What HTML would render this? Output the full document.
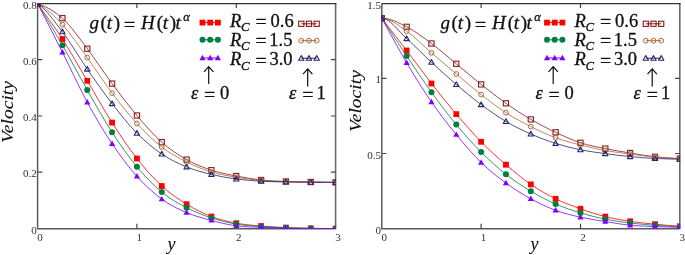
<!DOCTYPE html>
<html><head><meta charset="utf-8"><style>
html,body{margin:0;padding:0;background:#fff;width:685px;height:255px;overflow:hidden}
svg{display:block}
text.b{stroke:#111;stroke-width:0.3px}
text.v{stroke:#111;stroke-width:0.1px}
</style></head><body>
<svg width="685" height="255" viewBox="0 0 685 255">
<defs><clipPath id="cl"><rect x="37.1" y="3.3" width="298.8" height="225.8"/></clipPath><clipPath id="cr"><rect x="381.3" y="3.3" width="298.8" height="225.8"/></clipPath></defs>
<path d="M335.6,3.6 V228.8" fill="none" stroke="#6a6a6a" stroke-width="1.6"/>
<path d="M37.6,3.6 H336.4" fill="none" stroke="#333" stroke-width="1.3"/>
<path d="M37.6,3.6 V228.8 H335.6" fill="none" stroke="#5a5a5a" stroke-width="1.5"/>
<g clip-path="url(#cl)">
<path d="M37.60,3.60 C45.88,15.40 54.16,26.13 62.43,39.00 C70.71,51.87 78.99,66.87 87.27,80.80 C95.54,94.73 103.82,109.65 112.10,122.60 C120.38,135.55 128.65,147.93 136.93,158.50 C145.21,169.07 153.48,178.38 161.76,186.00 C170.04,193.62 178.32,199.12 186.59,204.20 C194.87,209.28 203.15,213.33 211.43,216.50 C219.70,219.67 227.98,221.62 236.26,223.20 C244.54,224.78 252.82,225.27 261.09,226.00 C269.37,226.73 277.65,227.22 285.93,227.60 C294.20,227.98 302.48,228.13 310.76,228.30 C319.04,228.47 327.31,228.50 335.59,228.60" fill="none" stroke="#ff0000" stroke-width="1" stroke-opacity="0.8"/>
<rect x="34.70" y="0.70" width="5.8" height="5.8" fill="#ff0000"/>
<rect x="59.53" y="36.10" width="5.8" height="5.8" fill="#ff0000"/>
<rect x="84.36" y="77.90" width="5.8" height="5.8" fill="#ff0000"/>
<rect x="109.20" y="119.70" width="5.8" height="5.8" fill="#ff0000"/>
<rect x="134.03" y="155.60" width="5.8" height="5.8" fill="#ff0000"/>
<rect x="158.86" y="183.10" width="5.8" height="5.8" fill="#ff0000"/>
<rect x="183.69" y="201.30" width="5.8" height="5.8" fill="#ff0000"/>
<rect x="208.53" y="213.60" width="5.8" height="5.8" fill="#ff0000"/>
<rect x="233.36" y="220.30" width="5.8" height="5.8" fill="#ff0000"/>
<rect x="258.19" y="223.10" width="5.8" height="5.8" fill="#ff0000"/>
<rect x="283.03" y="224.70" width="5.8" height="5.8" fill="#ff0000"/>
<rect x="307.86" y="225.40" width="5.8" height="5.8" fill="#ff0000"/>
<rect x="332.69" y="225.70" width="5.8" height="5.8" fill="#ff0000"/>
<path d="M37.60,3.60 C45.88,17.47 54.16,30.78 62.43,45.20 C70.71,59.62 78.99,75.58 87.27,90.10 C95.54,104.62 103.82,119.52 112.10,132.30 C120.38,145.08 128.65,156.83 136.93,166.80 C145.21,176.77 153.48,185.28 161.76,192.10 C170.04,198.92 178.32,203.40 186.59,207.70 C194.87,212.00 203.15,215.17 211.43,217.90 C219.70,220.63 227.98,222.67 236.26,224.10 C244.54,225.53 252.82,225.88 261.09,226.50 C269.37,227.12 277.65,227.48 285.93,227.80 C294.20,228.12 302.48,228.25 310.76,228.40 C319.04,228.55 327.31,228.60 335.59,228.70" fill="none" stroke="#008040" stroke-width="1" stroke-opacity="0.8"/>
<circle cx="37.60" cy="3.60" r="3" fill="#008040"/>
<circle cx="62.43" cy="45.20" r="3" fill="#008040"/>
<circle cx="87.27" cy="90.10" r="3" fill="#008040"/>
<circle cx="112.10" cy="132.30" r="3" fill="#008040"/>
<circle cx="136.93" cy="166.80" r="3" fill="#008040"/>
<circle cx="161.76" cy="192.10" r="3" fill="#008040"/>
<circle cx="186.59" cy="207.70" r="3" fill="#008040"/>
<circle cx="211.43" cy="217.90" r="3" fill="#008040"/>
<circle cx="236.26" cy="224.10" r="3" fill="#008040"/>
<circle cx="261.09" cy="226.50" r="3" fill="#008040"/>
<circle cx="285.93" cy="227.80" r="3" fill="#008040"/>
<circle cx="310.76" cy="228.40" r="3" fill="#008040"/>
<circle cx="335.59" cy="228.70" r="3" fill="#008040"/>
<path d="M37.60,3.60 C45.88,19.80 54.16,35.75 62.43,52.20 C70.71,68.65 78.99,87.03 87.27,102.30 C95.54,117.57 103.82,131.47 112.10,143.80 C120.38,156.13 128.65,167.08 136.93,176.30 C145.21,185.52 153.48,193.05 161.76,199.10 C170.04,205.15 178.32,209.05 186.59,212.60 C194.87,216.15 203.15,218.18 211.43,220.40 C219.70,222.62 227.98,224.75 236.26,225.90 C244.54,227.05 252.82,226.92 261.09,227.30 C269.37,227.68 277.65,227.98 285.93,228.20 C294.20,228.42 302.48,228.50 310.76,228.60 C319.04,228.70 327.31,228.73 335.59,228.80" fill="none" stroke="#8000ff" stroke-width="1" stroke-opacity="0.8"/>
<path d="M37.60,0.40 L40.70,5.80 L34.50,5.80 Z" fill="#8000ff"/>
<path d="M62.43,49.00 L65.53,54.40 L59.33,54.40 Z" fill="#8000ff"/>
<path d="M87.27,99.10 L90.36,104.50 L84.17,104.50 Z" fill="#8000ff"/>
<path d="M112.10,140.60 L115.20,146.00 L109.00,146.00 Z" fill="#8000ff"/>
<path d="M136.93,173.10 L140.03,178.50 L133.83,178.50 Z" fill="#8000ff"/>
<path d="M161.76,195.90 L164.86,201.30 L158.66,201.30 Z" fill="#8000ff"/>
<path d="M186.59,209.40 L189.69,214.80 L183.50,214.80 Z" fill="#8000ff"/>
<path d="M211.43,217.20 L214.53,222.60 L208.33,222.60 Z" fill="#8000ff"/>
<path d="M236.26,222.70 L239.36,228.10 L233.16,228.10 Z" fill="#8000ff"/>
<path d="M261.09,224.10 L264.19,229.50 L257.99,229.50 Z" fill="#8000ff"/>
<path d="M285.93,225.00 L289.03,230.40 L282.82,230.40 Z" fill="#8000ff"/>
<path d="M310.76,225.40 L313.86,230.80 L307.66,230.80 Z" fill="#8000ff"/>
<path d="M335.59,225.60 L338.69,231.00 L332.49,231.00 Z" fill="#8000ff"/>
<path d="M37.60,3.60 C45.88,6.52 54.16,10.68 62.43,18.20 C70.71,25.72 78.99,37.80 87.27,48.70 C95.54,59.60 103.82,72.47 112.10,83.60 C120.38,94.73 128.65,105.73 136.93,115.50 C145.21,125.27 153.48,134.85 161.76,142.20 C170.04,149.55 178.32,154.93 186.59,159.60 C194.87,164.27 203.15,167.47 211.43,170.20 C219.70,172.93 227.98,174.37 236.26,176.00 C244.54,177.63 252.82,179.08 261.09,180.00 C269.37,180.92 277.65,181.17 285.93,181.50 C294.20,181.83 302.48,181.85 310.76,182.00 C319.04,182.15 327.31,182.27 335.59,182.40" fill="none" stroke="#8b1a1a" stroke-width="1" stroke-opacity="0.8"/>
<rect x="35.00" y="1.00" width="5.2" height="5.2" fill="none" stroke="#8b1a1a" stroke-width="1.1"/>
<rect x="59.83" y="15.60" width="5.2" height="5.2" fill="none" stroke="#8b1a1a" stroke-width="1.1"/>
<rect x="84.67" y="46.10" width="5.2" height="5.2" fill="none" stroke="#8b1a1a" stroke-width="1.1"/>
<rect x="109.50" y="81.00" width="5.2" height="5.2" fill="none" stroke="#8b1a1a" stroke-width="1.1"/>
<rect x="134.33" y="112.90" width="5.2" height="5.2" fill="none" stroke="#8b1a1a" stroke-width="1.1"/>
<rect x="159.16" y="139.60" width="5.2" height="5.2" fill="none" stroke="#8b1a1a" stroke-width="1.1"/>
<rect x="184.00" y="157.00" width="5.2" height="5.2" fill="none" stroke="#8b1a1a" stroke-width="1.1"/>
<rect x="208.83" y="167.60" width="5.2" height="5.2" fill="none" stroke="#8b1a1a" stroke-width="1.1"/>
<rect x="233.66" y="173.40" width="5.2" height="5.2" fill="none" stroke="#8b1a1a" stroke-width="1.1"/>
<rect x="258.49" y="177.40" width="5.2" height="5.2" fill="none" stroke="#8b1a1a" stroke-width="1.1"/>
<rect x="283.32" y="178.90" width="5.2" height="5.2" fill="none" stroke="#8b1a1a" stroke-width="1.1"/>
<rect x="308.16" y="179.40" width="5.2" height="5.2" fill="none" stroke="#8b1a1a" stroke-width="1.1"/>
<rect x="332.99" y="179.80" width="5.2" height="5.2" fill="none" stroke="#8b1a1a" stroke-width="1.1"/>
<path d="M37.60,3.60 C45.88,7.82 54.16,15.70 62.43,24.70 C70.71,33.70 78.99,46.20 87.27,57.60 C95.54,69.00 103.82,82.12 112.10,93.10 C120.38,104.08 128.65,114.52 136.93,123.50 C145.21,132.48 153.48,140.58 161.76,147.00 C170.04,153.42 178.32,157.83 186.59,162.00 C194.87,166.17 203.15,169.47 211.43,172.00 C219.70,174.53 227.98,175.78 236.26,177.20 C244.54,178.62 252.82,179.75 261.09,180.50 C269.37,181.25 277.65,181.43 285.93,181.70 C294.20,181.97 302.48,181.98 310.76,182.10 C319.04,182.22 327.31,182.30 335.59,182.40" fill="none" stroke="#a86a3c" stroke-width="1" stroke-opacity="0.8"/>
<circle cx="37.60" cy="3.60" r="2.4" fill="none" stroke="#a86a3c" stroke-width="1"/>
<circle cx="62.43" cy="24.70" r="2.4" fill="none" stroke="#a86a3c" stroke-width="1"/>
<circle cx="87.27" cy="57.60" r="2.4" fill="none" stroke="#a86a3c" stroke-width="1"/>
<circle cx="112.10" cy="93.10" r="2.4" fill="none" stroke="#a86a3c" stroke-width="1"/>
<circle cx="136.93" cy="123.50" r="2.4" fill="none" stroke="#a86a3c" stroke-width="1"/>
<circle cx="161.76" cy="147.00" r="2.4" fill="none" stroke="#a86a3c" stroke-width="1"/>
<circle cx="186.59" cy="162.00" r="2.4" fill="none" stroke="#a86a3c" stroke-width="1"/>
<circle cx="211.43" cy="172.00" r="2.4" fill="none" stroke="#a86a3c" stroke-width="1"/>
<circle cx="236.26" cy="177.20" r="2.4" fill="none" stroke="#a86a3c" stroke-width="1"/>
<circle cx="261.09" cy="180.50" r="2.4" fill="none" stroke="#a86a3c" stroke-width="1"/>
<circle cx="285.93" cy="181.70" r="2.4" fill="none" stroke="#a86a3c" stroke-width="1"/>
<circle cx="310.76" cy="182.10" r="2.4" fill="none" stroke="#a86a3c" stroke-width="1"/>
<circle cx="335.59" cy="182.40" r="2.4" fill="none" stroke="#a86a3c" stroke-width="1"/>
<path d="M37.60,3.60 C45.88,9.24 54.16,20.88 62.43,31.80 C70.71,42.72 78.99,57.13 87.27,69.10 C95.54,81.07 103.82,92.92 112.10,103.60 C120.38,114.28 128.65,124.80 136.93,133.20 C145.21,141.60 153.48,148.38 161.76,154.00 C170.04,159.62 178.32,163.50 186.59,166.90 C194.87,170.30 203.15,172.38 211.43,174.40 C219.70,176.42 227.98,177.87 236.26,179.00 C244.54,180.13 252.82,180.70 261.09,181.20 C269.37,181.70 277.65,181.83 285.93,182.00 C294.20,182.17 302.48,182.13 310.76,182.20 C319.04,182.27 327.31,182.33 335.59,182.40" fill="none" stroke="#25256b" stroke-width="1" stroke-opacity="0.8"/>
<path d="M37.60,0.90 L40.30,5.60 L34.90,5.60 Z" fill="none" stroke="#25256b" stroke-width="1.1" stroke-linejoin="round"/>
<path d="M62.43,29.10 L65.13,33.80 L59.73,33.80 Z" fill="none" stroke="#25256b" stroke-width="1.1" stroke-linejoin="round"/>
<path d="M87.27,66.40 L89.97,71.10 L84.56,71.10 Z" fill="none" stroke="#25256b" stroke-width="1.1" stroke-linejoin="round"/>
<path d="M112.10,100.90 L114.80,105.60 L109.40,105.60 Z" fill="none" stroke="#25256b" stroke-width="1.1" stroke-linejoin="round"/>
<path d="M136.93,130.50 L139.63,135.20 L134.23,135.20 Z" fill="none" stroke="#25256b" stroke-width="1.1" stroke-linejoin="round"/>
<path d="M161.76,151.30 L164.46,156.00 L159.06,156.00 Z" fill="none" stroke="#25256b" stroke-width="1.1" stroke-linejoin="round"/>
<path d="M186.59,164.20 L189.29,168.90 L183.90,168.90 Z" fill="none" stroke="#25256b" stroke-width="1.1" stroke-linejoin="round"/>
<path d="M211.43,171.70 L214.13,176.40 L208.73,176.40 Z" fill="none" stroke="#25256b" stroke-width="1.1" stroke-linejoin="round"/>
<path d="M236.26,176.30 L238.96,181.00 L233.56,181.00 Z" fill="none" stroke="#25256b" stroke-width="1.1" stroke-linejoin="round"/>
<path d="M261.09,178.50 L263.79,183.20 L258.39,183.20 Z" fill="none" stroke="#25256b" stroke-width="1.1" stroke-linejoin="round"/>
<path d="M285.93,179.30 L288.62,184.00 L283.23,184.00 Z" fill="none" stroke="#25256b" stroke-width="1.1" stroke-linejoin="round"/>
<path d="M310.76,179.50 L313.46,184.20 L308.06,184.20 Z" fill="none" stroke="#25256b" stroke-width="1.1" stroke-linejoin="round"/>
<path d="M335.59,179.70 L338.29,184.40 L332.89,184.40 Z" fill="none" stroke="#25256b" stroke-width="1.1" stroke-linejoin="round"/>
</g>
<path d="M136.9,228.8 v-5 M136.9,3.6 v4.5" stroke="#444" stroke-width="1.2"/>
<path d="M236.3,228.8 v-5 M236.3,3.6 v4.5" stroke="#444" stroke-width="1.2"/>
<text x="37.3" y="241.4" style="font-family:'Liberation Serif','Times New Roman',serif;font-size:11px" fill="#333">0</text>
<text x="136.6" y="241.4" style="font-family:'Liberation Serif','Times New Roman',serif;font-size:11px" fill="#333">1</text>
<text x="236.0" y="241.4" style="font-family:'Liberation Serif','Times New Roman',serif;font-size:11px" fill="#333">2</text>
<text x="335.3" y="241.4" style="font-family:'Liberation Serif','Times New Roman',serif;font-size:11px" fill="#333">3</text>
<text x="36.8" y="233.8" text-anchor="end" style="font-family:'Liberation Serif','Times New Roman',serif;font-size:11px" fill="#333">0</text>
<path d="M37.6,172.2 h4.7 M335.6,172.2 h-4.7" stroke="#444" stroke-width="1.2"/>
<text x="36.8" y="177.2" text-anchor="end" style="font-family:'Liberation Serif','Times New Roman',serif;font-size:11px" fill="#333">0.2</text>
<path d="M37.6,116.0 h4.7 M335.6,116.0 h-4.7" stroke="#444" stroke-width="1.2"/>
<text x="36.8" y="121.0" text-anchor="end" style="font-family:'Liberation Serif','Times New Roman',serif;font-size:11px" fill="#333">0.4</text>
<path d="M37.6,59.6 h4.7 M335.6,59.6 h-4.7" stroke="#444" stroke-width="1.2"/>
<text x="36.8" y="64.6" text-anchor="end" style="font-family:'Liberation Serif','Times New Roman',serif;font-size:11px" fill="#333">0.6</text>
<text x="36.8" y="8.6" text-anchor="end" style="font-family:'Liberation Serif','Times New Roman',serif;font-size:11px" fill="#333">0.8</text>
<path d="M679.8,3.6 V228.8" fill="none" stroke="#6a6a6a" stroke-width="1.6"/>
<path d="M381.8,3.6 H680.6" fill="none" stroke="#333" stroke-width="1.3"/>
<path d="M381.8,3.6 V228.8 H679.8" fill="none" stroke="#5a5a5a" stroke-width="1.5"/>
<g clip-path="url(#cr)">
<path d="M381.80,18.20 C390.08,28.97 398.36,39.62 406.63,50.50 C414.91,61.38 423.19,72.90 431.47,83.50 C439.74,94.10 448.02,104.38 456.30,114.10 C464.57,123.82 472.85,133.37 481.13,141.80 C489.41,150.23 497.69,157.60 505.96,164.70 C514.24,171.80 522.52,178.72 530.80,184.40 C539.07,190.08 547.35,194.73 555.63,198.80 C563.91,202.87 572.18,205.83 580.46,208.80 C588.74,211.77 597.01,214.52 605.29,216.60 C613.57,218.68 621.85,220.03 630.12,221.30 C638.40,222.57 646.68,223.37 654.96,224.20 C663.24,225.03 671.51,225.60 679.79,226.30" fill="none" stroke="#ff0000" stroke-width="1" stroke-opacity="0.8"/>
<rect x="378.90" y="15.30" width="5.8" height="5.8" fill="#ff0000"/>
<rect x="403.73" y="47.60" width="5.8" height="5.8" fill="#ff0000"/>
<rect x="428.57" y="80.60" width="5.8" height="5.8" fill="#ff0000"/>
<rect x="453.40" y="111.20" width="5.8" height="5.8" fill="#ff0000"/>
<rect x="478.23" y="138.90" width="5.8" height="5.8" fill="#ff0000"/>
<rect x="503.06" y="161.80" width="5.8" height="5.8" fill="#ff0000"/>
<rect x="527.90" y="181.50" width="5.8" height="5.8" fill="#ff0000"/>
<rect x="552.73" y="195.90" width="5.8" height="5.8" fill="#ff0000"/>
<rect x="577.56" y="205.90" width="5.8" height="5.8" fill="#ff0000"/>
<rect x="602.39" y="213.70" width="5.8" height="5.8" fill="#ff0000"/>
<rect x="627.23" y="218.40" width="5.8" height="5.8" fill="#ff0000"/>
<rect x="652.06" y="221.30" width="5.8" height="5.8" fill="#ff0000"/>
<rect x="676.89" y="223.40" width="5.8" height="5.8" fill="#ff0000"/>
<path d="M381.80,18.20 C390.08,30.77 398.36,43.57 406.63,55.90 C414.91,68.23 423.19,80.75 431.47,92.20 C439.74,103.65 448.02,114.63 456.30,124.60 C464.57,134.57 472.85,143.72 481.13,152.00 C489.41,160.28 497.69,167.77 505.96,174.30 C514.24,180.83 522.52,186.25 530.80,191.20 C539.07,196.15 547.35,200.38 555.63,204.00 C563.91,207.62 572.18,210.37 580.46,212.90 C588.74,215.43 597.01,217.52 605.29,219.20 C613.57,220.88 621.85,221.98 630.12,223.00 C638.40,224.02 646.68,224.67 654.96,225.30 C663.24,225.93 671.51,226.30 679.79,226.80" fill="none" stroke="#008040" stroke-width="1" stroke-opacity="0.8"/>
<circle cx="381.80" cy="18.20" r="3" fill="#008040"/>
<circle cx="406.63" cy="55.90" r="3" fill="#008040"/>
<circle cx="431.47" cy="92.20" r="3" fill="#008040"/>
<circle cx="456.30" cy="124.60" r="3" fill="#008040"/>
<circle cx="481.13" cy="152.00" r="3" fill="#008040"/>
<circle cx="505.96" cy="174.30" r="3" fill="#008040"/>
<circle cx="530.80" cy="191.20" r="3" fill="#008040"/>
<circle cx="555.63" cy="204.00" r="3" fill="#008040"/>
<circle cx="580.46" cy="212.90" r="3" fill="#008040"/>
<circle cx="605.29" cy="219.20" r="3" fill="#008040"/>
<circle cx="630.12" cy="223.00" r="3" fill="#008040"/>
<circle cx="654.96" cy="225.30" r="3" fill="#008040"/>
<circle cx="679.79" cy="226.80" r="3" fill="#008040"/>
<path d="M381.80,18.20 C390.08,33.07 398.36,48.83 406.63,62.80 C414.91,76.77 423.19,90.03 431.47,102.00 C439.74,113.97 448.02,124.52 456.30,134.60 C464.57,144.68 472.85,154.43 481.13,162.50 C489.41,170.57 497.69,176.95 505.96,183.00 C514.24,189.05 522.52,194.25 530.80,198.80 C539.07,203.35 547.35,207.23 555.63,210.30 C563.91,213.37 572.18,215.33 580.46,217.20 C588.74,219.07 597.01,220.15 605.29,221.50 C613.57,222.85 621.85,224.47 630.12,225.30 C638.40,226.13 646.68,226.17 654.96,226.50 C663.24,226.83 671.51,227.03 679.79,227.30" fill="none" stroke="#8000ff" stroke-width="1" stroke-opacity="0.8"/>
<path d="M381.80,15.00 L384.90,20.40 L378.70,20.40 Z" fill="#8000ff"/>
<path d="M406.63,59.60 L409.73,65.00 L403.53,65.00 Z" fill="#8000ff"/>
<path d="M431.47,98.80 L434.57,104.20 L428.37,104.20 Z" fill="#8000ff"/>
<path d="M456.30,131.40 L459.40,136.80 L453.20,136.80 Z" fill="#8000ff"/>
<path d="M481.13,159.30 L484.23,164.70 L478.03,164.70 Z" fill="#8000ff"/>
<path d="M505.96,179.80 L509.06,185.20 L502.86,185.20 Z" fill="#8000ff"/>
<path d="M530.80,195.60 L533.90,201.00 L527.70,201.00 Z" fill="#8000ff"/>
<path d="M555.63,207.10 L558.73,212.50 L552.53,212.50 Z" fill="#8000ff"/>
<path d="M580.46,214.00 L583.56,219.40 L577.36,219.40 Z" fill="#8000ff"/>
<path d="M605.29,218.30 L608.39,223.70 L602.19,223.70 Z" fill="#8000ff"/>
<path d="M630.12,222.10 L633.23,227.50 L627.02,227.50 Z" fill="#8000ff"/>
<path d="M654.96,223.30 L658.06,228.70 L651.86,228.70 Z" fill="#8000ff"/>
<path d="M679.79,224.10 L682.89,229.50 L676.69,229.50 Z" fill="#8000ff"/>
<path d="M381.80,18.20 C390.08,18.20 398.36,22.58 406.63,26.80 C414.91,31.02 423.19,37.33 431.47,43.50 C439.74,49.67 448.02,56.98 456.30,63.80 C464.57,70.62 472.85,77.82 481.13,84.40 C489.41,90.98 497.69,97.47 505.96,103.30 C514.24,109.13 522.52,114.57 530.80,119.40 C539.07,124.23 547.35,128.40 555.63,132.30 C563.91,136.20 572.18,140.08 580.46,142.80 C588.74,145.52 597.01,146.90 605.29,148.60 C613.57,150.30 621.85,151.63 630.12,153.00 C638.40,154.37 646.68,155.87 654.96,156.80 C663.24,157.73 671.51,158.00 679.79,158.60" fill="none" stroke="#8b1a1a" stroke-width="1" stroke-opacity="0.8"/>
<rect x="379.20" y="15.60" width="5.2" height="5.2" fill="none" stroke="#8b1a1a" stroke-width="1.1"/>
<rect x="404.03" y="24.20" width="5.2" height="5.2" fill="none" stroke="#8b1a1a" stroke-width="1.1"/>
<rect x="428.87" y="40.90" width="5.2" height="5.2" fill="none" stroke="#8b1a1a" stroke-width="1.1"/>
<rect x="453.70" y="61.20" width="5.2" height="5.2" fill="none" stroke="#8b1a1a" stroke-width="1.1"/>
<rect x="478.53" y="81.80" width="5.2" height="5.2" fill="none" stroke="#8b1a1a" stroke-width="1.1"/>
<rect x="503.36" y="100.70" width="5.2" height="5.2" fill="none" stroke="#8b1a1a" stroke-width="1.1"/>
<rect x="528.20" y="116.80" width="5.2" height="5.2" fill="none" stroke="#8b1a1a" stroke-width="1.1"/>
<rect x="553.03" y="129.70" width="5.2" height="5.2" fill="none" stroke="#8b1a1a" stroke-width="1.1"/>
<rect x="577.86" y="140.20" width="5.2" height="5.2" fill="none" stroke="#8b1a1a" stroke-width="1.1"/>
<rect x="602.69" y="146.00" width="5.2" height="5.2" fill="none" stroke="#8b1a1a" stroke-width="1.1"/>
<rect x="627.52" y="150.40" width="5.2" height="5.2" fill="none" stroke="#8b1a1a" stroke-width="1.1"/>
<rect x="652.36" y="154.20" width="5.2" height="5.2" fill="none" stroke="#8b1a1a" stroke-width="1.1"/>
<rect x="677.19" y="156.00" width="5.2" height="5.2" fill="none" stroke="#8b1a1a" stroke-width="1.1"/>
<path d="M381.80,18.20 C390.08,18.20 398.36,25.42 406.63,31.20 C414.91,36.98 423.19,45.77 431.47,52.90 C439.74,60.03 448.02,67.05 456.30,74.00 C464.57,80.95 472.85,88.15 481.13,94.60 C489.41,101.05 497.69,107.37 505.96,112.70 C514.24,118.03 522.52,122.43 530.80,126.60 C539.07,130.77 547.35,134.63 555.63,137.70 C563.91,140.77 572.18,142.85 580.46,145.00 C588.74,147.15 597.01,149.10 605.29,150.60 C613.57,152.10 621.85,152.90 630.12,154.00 C638.40,155.10 646.68,156.40 654.96,157.20 C663.24,158.00 671.51,158.27 679.79,158.80" fill="none" stroke="#a86a3c" stroke-width="1" stroke-opacity="0.8"/>
<circle cx="381.80" cy="18.20" r="2.4" fill="none" stroke="#a86a3c" stroke-width="1"/>
<circle cx="406.63" cy="31.20" r="2.4" fill="none" stroke="#a86a3c" stroke-width="1"/>
<circle cx="431.47" cy="52.90" r="2.4" fill="none" stroke="#a86a3c" stroke-width="1"/>
<circle cx="456.30" cy="74.00" r="2.4" fill="none" stroke="#a86a3c" stroke-width="1"/>
<circle cx="481.13" cy="94.60" r="2.4" fill="none" stroke="#a86a3c" stroke-width="1"/>
<circle cx="505.96" cy="112.70" r="2.4" fill="none" stroke="#a86a3c" stroke-width="1"/>
<circle cx="530.80" cy="126.60" r="2.4" fill="none" stroke="#a86a3c" stroke-width="1"/>
<circle cx="555.63" cy="137.70" r="2.4" fill="none" stroke="#a86a3c" stroke-width="1"/>
<circle cx="580.46" cy="145.00" r="2.4" fill="none" stroke="#a86a3c" stroke-width="1"/>
<circle cx="605.29" cy="150.60" r="2.4" fill="none" stroke="#a86a3c" stroke-width="1"/>
<circle cx="630.12" cy="154.00" r="2.4" fill="none" stroke="#a86a3c" stroke-width="1"/>
<circle cx="654.96" cy="157.20" r="2.4" fill="none" stroke="#a86a3c" stroke-width="1"/>
<circle cx="679.79" cy="158.80" r="2.4" fill="none" stroke="#a86a3c" stroke-width="1"/>
<path d="M381.80,18.20 C390.08,18.20 398.36,31.25 406.63,38.60 C414.91,45.95 423.19,54.65 431.47,62.30 C439.74,69.95 448.02,77.45 456.30,84.50 C464.57,91.55 472.85,98.43 481.13,104.60 C489.41,110.77 497.69,116.60 505.96,121.50 C514.24,126.40 522.52,130.35 530.80,134.00 C539.07,137.65 547.35,140.77 555.63,143.40 C563.91,146.03 572.18,148.10 580.46,149.80 C588.74,151.50 597.01,152.47 605.29,153.60 C613.57,154.73 621.85,155.78 630.12,156.60 C638.40,157.42 646.68,158.07 654.96,158.50 C663.24,158.93 671.51,158.97 679.79,159.20" fill="none" stroke="#25256b" stroke-width="1" stroke-opacity="0.8"/>
<path d="M381.80,15.50 L384.50,20.20 L379.10,20.20 Z" fill="none" stroke="#25256b" stroke-width="1.1" stroke-linejoin="round"/>
<path d="M406.63,35.90 L409.33,40.60 L403.93,40.60 Z" fill="none" stroke="#25256b" stroke-width="1.1" stroke-linejoin="round"/>
<path d="M431.47,59.60 L434.17,64.30 L428.77,64.30 Z" fill="none" stroke="#25256b" stroke-width="1.1" stroke-linejoin="round"/>
<path d="M456.30,81.80 L459.00,86.50 L453.60,86.50 Z" fill="none" stroke="#25256b" stroke-width="1.1" stroke-linejoin="round"/>
<path d="M481.13,101.90 L483.83,106.60 L478.43,106.60 Z" fill="none" stroke="#25256b" stroke-width="1.1" stroke-linejoin="round"/>
<path d="M505.96,118.80 L508.66,123.50 L503.26,123.50 Z" fill="none" stroke="#25256b" stroke-width="1.1" stroke-linejoin="round"/>
<path d="M530.80,131.30 L533.50,136.00 L528.10,136.00 Z" fill="none" stroke="#25256b" stroke-width="1.1" stroke-linejoin="round"/>
<path d="M555.63,140.70 L558.33,145.40 L552.93,145.40 Z" fill="none" stroke="#25256b" stroke-width="1.1" stroke-linejoin="round"/>
<path d="M580.46,147.10 L583.16,151.80 L577.76,151.80 Z" fill="none" stroke="#25256b" stroke-width="1.1" stroke-linejoin="round"/>
<path d="M605.29,150.90 L607.99,155.60 L602.59,155.60 Z" fill="none" stroke="#25256b" stroke-width="1.1" stroke-linejoin="round"/>
<path d="M630.12,153.90 L632.83,158.60 L627.42,158.60 Z" fill="none" stroke="#25256b" stroke-width="1.1" stroke-linejoin="round"/>
<path d="M654.96,155.80 L657.66,160.50 L652.26,160.50 Z" fill="none" stroke="#25256b" stroke-width="1.1" stroke-linejoin="round"/>
<path d="M679.79,156.50 L682.49,161.20 L677.09,161.20 Z" fill="none" stroke="#25256b" stroke-width="1.1" stroke-linejoin="round"/>
</g>
<path d="M481.1,228.8 v-5 M481.1,3.6 v4.5" stroke="#444" stroke-width="1.2"/>
<path d="M580.5,228.8 v-5 M580.5,3.6 v4.5" stroke="#444" stroke-width="1.2"/>
<text x="381.5" y="241.4" style="font-family:'Liberation Serif','Times New Roman',serif;font-size:11px" fill="#333">0</text>
<text x="480.8" y="241.4" style="font-family:'Liberation Serif','Times New Roman',serif;font-size:11px" fill="#333">1</text>
<text x="580.2" y="241.4" style="font-family:'Liberation Serif','Times New Roman',serif;font-size:11px" fill="#333">2</text>
<text x="679.5" y="241.4" style="font-family:'Liberation Serif','Times New Roman',serif;font-size:11px" fill="#333">3</text>
<text x="381.0" y="233.8" text-anchor="end" style="font-family:'Liberation Serif','Times New Roman',serif;font-size:11px" fill="#333">0</text>
<path d="M381.8,153.5 h4.7 M679.8,153.5 h-4.7" stroke="#444" stroke-width="1.2"/>
<text x="381.0" y="158.5" text-anchor="end" style="font-family:'Liberation Serif','Times New Roman',serif;font-size:11px" fill="#333">0.5</text>
<path d="M381.8,78.3 h4.7 M679.8,78.3 h-4.7" stroke="#444" stroke-width="1.2"/>
<text x="381.0" y="83.3" text-anchor="end" style="font-family:'Liberation Serif','Times New Roman',serif;font-size:11px" fill="#333">1</text>
<text x="381.0" y="8.6" text-anchor="end" style="font-family:'Liberation Serif','Times New Roman',serif;font-size:11px" fill="#333">1.5</text>
<path d="M202.5,22.6 H217.9" stroke="#ff0000" stroke-width="1"/>
<rect x="199.60" y="19.70" width="5.8" height="5.8" fill="#ff0000"/>
<rect x="207.30" y="19.70" width="5.8" height="5.8" fill="#ff0000"/>
<rect x="215.00" y="19.70" width="5.8" height="5.8" fill="#ff0000"/>
<path d="M301.3,23.8 H316.7" stroke="#8b1a1a" stroke-width="1"/>
<rect x="298.70" y="21.20" width="5.2" height="5.2" fill="none" stroke="#8b1a1a" stroke-width="1.1"/>
<rect x="306.40" y="21.20" width="5.2" height="5.2" fill="none" stroke="#8b1a1a" stroke-width="1.1"/>
<rect x="314.10" y="21.20" width="5.2" height="5.2" fill="none" stroke="#8b1a1a" stroke-width="1.1"/>
<text y="26.8" style="font-family:'Liberation Serif','Times New Roman',serif;font-size:18.5px" fill="#111" class="b"><tspan x="230.1" font-style="italic">R</tspan><tspan x="240.9" font-style="italic" font-size="12.8" dy="4.5">C</tspan><tspan x="270.6" dy="-4.5">0.6</tspan></text>
<text transform="translate(255.40,28.20) scale(1.08,0.97)" style="font-family:'Liberation Serif','Times New Roman',serif;font-size:18.5px" fill="#111" class="b">=</text>
<path d="M202.5,39.8 H217.9" stroke="#008040" stroke-width="1"/>
<circle cx="202.50" cy="39.80" r="3" fill="#008040"/>
<circle cx="210.20" cy="39.80" r="3" fill="#008040"/>
<circle cx="217.90" cy="39.80" r="3" fill="#008040"/>
<path d="M301.3,40.7 H316.7" stroke="#a86a3c" stroke-width="1"/>
<circle cx="301.30" cy="40.70" r="2.4" fill="none" stroke="#a86a3c" stroke-width="1"/>
<circle cx="309.00" cy="40.70" r="2.4" fill="none" stroke="#a86a3c" stroke-width="1"/>
<circle cx="316.70" cy="40.70" r="2.4" fill="none" stroke="#a86a3c" stroke-width="1"/>
<text y="45.6" style="font-family:'Liberation Serif','Times New Roman',serif;font-size:18.5px" fill="#111" class="b"><tspan x="230.1" font-style="italic">R</tspan><tspan x="240.9" font-style="italic" font-size="12.8" dy="4.5">C</tspan><tspan x="269.3" dy="-4.5">1.5</tspan></text>
<text transform="translate(255.40,47.00) scale(1.08,0.97)" style="font-family:'Liberation Serif','Times New Roman',serif;font-size:18.5px" fill="#111" class="b">=</text>
<path d="M202.5,58.0 H217.9" stroke="#8000ff" stroke-width="1"/>
<path d="M202.50,54.80 L205.60,60.20 L199.40,60.20 Z" fill="#8000ff"/>
<path d="M210.20,54.80 L213.30,60.20 L207.10,60.20 Z" fill="#8000ff"/>
<path d="M217.90,54.80 L221.00,60.20 L214.80,60.20 Z" fill="#8000ff"/>
<path d="M301.3,58.2 H316.7" stroke="#25256b" stroke-width="1"/>
<path d="M301.30,55.50 L304.00,60.20 L298.60,60.20 Z" fill="none" stroke="#25256b" stroke-width="1.1" stroke-linejoin="round"/>
<path d="M309.00,55.50 L311.70,60.20 L306.30,60.20 Z" fill="none" stroke="#25256b" stroke-width="1.1" stroke-linejoin="round"/>
<path d="M316.70,55.50 L319.40,60.20 L314.00,60.20 Z" fill="none" stroke="#25256b" stroke-width="1.1" stroke-linejoin="round"/>
<text y="65.4" style="font-family:'Liberation Serif','Times New Roman',serif;font-size:18.5px" fill="#111" class="b"><tspan x="230.1" font-style="italic">R</tspan><tspan x="240.9" font-style="italic" font-size="12.8" dy="4.5">C</tspan><tspan x="269.4" dy="-4.5">3.0</tspan></text>
<text transform="translate(255.40,66.80) scale(1.08,0.97)" style="font-family:'Liberation Serif','Times New Roman',serif;font-size:18.5px" fill="#111" class="b">=</text>
<path d="M208.7,83.9 V67.1 M204.0,71.8 L208.7,66.6 L213.4,71.8" fill="none" stroke="#111" stroke-width="1.2"/>
<path d="M307.7,86.4 V69.4 M303.0,74.1 L307.7,68.9 L312.4,74.1" fill="none" stroke="#111" stroke-width="1.2"/>
<text y="99.4" style="font-family:'Liberation Serif','Times New Roman',serif;font-size:18.5px" fill="#111" class="b"><tspan x="191.0" font-style="italic">ε</tspan><tspan x="219.9">0</tspan></text>
<text transform="translate(203.90,100.90) scale(1.08,0.97)" style="font-family:'Liberation Serif','Times New Roman',serif;font-size:18.5px" fill="#111" class="b">=</text>
<text y="99.4" style="font-family:'Liberation Serif','Times New Roman',serif;font-size:18.5px" fill="#111" class="b"><tspan x="289.0" font-style="italic">ε</tspan><tspan x="316.5">1</tspan></text>
<text transform="translate(302.20,100.90) scale(1.08,0.97)" style="font-family:'Liberation Serif','Times New Roman',serif;font-size:18.5px" fill="#111" class="b">=</text>
<path d="M547.0,22.6 H562.4" stroke="#ff0000" stroke-width="1"/>
<rect x="544.10" y="19.70" width="5.8" height="5.8" fill="#ff0000"/>
<rect x="551.80" y="19.70" width="5.8" height="5.8" fill="#ff0000"/>
<rect x="559.50" y="19.70" width="5.8" height="5.8" fill="#ff0000"/>
<path d="M645.8,23.8 H661.2" stroke="#8b1a1a" stroke-width="1"/>
<rect x="643.20" y="21.20" width="5.2" height="5.2" fill="none" stroke="#8b1a1a" stroke-width="1.1"/>
<rect x="650.90" y="21.20" width="5.2" height="5.2" fill="none" stroke="#8b1a1a" stroke-width="1.1"/>
<rect x="658.60" y="21.20" width="5.2" height="5.2" fill="none" stroke="#8b1a1a" stroke-width="1.1"/>
<text y="26.8" style="font-family:'Liberation Serif','Times New Roman',serif;font-size:18.5px" fill="#111" class="b"><tspan x="574.6" font-style="italic">R</tspan><tspan x="585.4" font-style="italic" font-size="12.8" dy="4.5">C</tspan><tspan x="615.1" dy="-4.5">0.6</tspan></text>
<text transform="translate(599.90,28.20) scale(1.08,0.97)" style="font-family:'Liberation Serif','Times New Roman',serif;font-size:18.5px" fill="#111" class="b">=</text>
<path d="M547.0,39.8 H562.4" stroke="#008040" stroke-width="1"/>
<circle cx="547.00" cy="39.80" r="3" fill="#008040"/>
<circle cx="554.70" cy="39.80" r="3" fill="#008040"/>
<circle cx="562.40" cy="39.80" r="3" fill="#008040"/>
<path d="M645.8,40.7 H661.2" stroke="#a86a3c" stroke-width="1"/>
<circle cx="645.80" cy="40.70" r="2.4" fill="none" stroke="#a86a3c" stroke-width="1"/>
<circle cx="653.50" cy="40.70" r="2.4" fill="none" stroke="#a86a3c" stroke-width="1"/>
<circle cx="661.20" cy="40.70" r="2.4" fill="none" stroke="#a86a3c" stroke-width="1"/>
<text y="45.6" style="font-family:'Liberation Serif','Times New Roman',serif;font-size:18.5px" fill="#111" class="b"><tspan x="574.6" font-style="italic">R</tspan><tspan x="585.4" font-style="italic" font-size="12.8" dy="4.5">C</tspan><tspan x="613.8" dy="-4.5">1.5</tspan></text>
<text transform="translate(599.90,47.00) scale(1.08,0.97)" style="font-family:'Liberation Serif','Times New Roman',serif;font-size:18.5px" fill="#111" class="b">=</text>
<path d="M547.0,58.0 H562.4" stroke="#8000ff" stroke-width="1"/>
<path d="M547.00,54.80 L550.10,60.20 L543.90,60.20 Z" fill="#8000ff"/>
<path d="M554.70,54.80 L557.80,60.20 L551.60,60.20 Z" fill="#8000ff"/>
<path d="M562.40,54.80 L565.50,60.20 L559.30,60.20 Z" fill="#8000ff"/>
<path d="M645.8,58.2 H661.2" stroke="#25256b" stroke-width="1"/>
<path d="M645.80,55.50 L648.50,60.20 L643.10,60.20 Z" fill="none" stroke="#25256b" stroke-width="1.1" stroke-linejoin="round"/>
<path d="M653.50,55.50 L656.20,60.20 L650.80,60.20 Z" fill="none" stroke="#25256b" stroke-width="1.1" stroke-linejoin="round"/>
<path d="M661.20,55.50 L663.90,60.20 L658.50,60.20 Z" fill="none" stroke="#25256b" stroke-width="1.1" stroke-linejoin="round"/>
<text y="65.4" style="font-family:'Liberation Serif','Times New Roman',serif;font-size:18.5px" fill="#111" class="b"><tspan x="574.6" font-style="italic">R</tspan><tspan x="585.4" font-style="italic" font-size="12.8" dy="4.5">C</tspan><tspan x="613.9" dy="-4.5">3.0</tspan></text>
<text transform="translate(599.90,66.80) scale(1.08,0.97)" style="font-family:'Liberation Serif','Times New Roman',serif;font-size:18.5px" fill="#111" class="b">=</text>
<path d="M553.2,83.9 V67.1 M548.5,71.8 L553.2,66.6 L557.9,71.8" fill="none" stroke="#111" stroke-width="1.2"/>
<path d="M652.2,86.4 V69.4 M647.5,74.1 L652.2,68.9 L656.9,74.1" fill="none" stroke="#111" stroke-width="1.2"/>
<text y="99.4" style="font-family:'Liberation Serif','Times New Roman',serif;font-size:18.5px" fill="#111" class="b"><tspan x="535.5" font-style="italic">ε</tspan><tspan x="564.4">0</tspan></text>
<text transform="translate(548.40,100.90) scale(1.08,0.97)" style="font-family:'Liberation Serif','Times New Roman',serif;font-size:18.5px" fill="#111" class="b">=</text>
<text y="99.4" style="font-family:'Liberation Serif','Times New Roman',serif;font-size:18.5px" fill="#111" class="b"><tspan x="633.5" font-style="italic">ε</tspan><tspan x="661.0">1</tspan></text>
<text transform="translate(646.70,100.90) scale(1.08,0.97)" style="font-family:'Liberation Serif','Times New Roman',serif;font-size:18.5px" fill="#111" class="b">=</text>
<text y="29.2" style="font-family:'Liberation Serif','Times New Roman',serif;font-size:19px" fill="#111" class="b"><tspan x="89.4" font-style="italic">g</tspan><tspan x="100.4">(</tspan><tspan x="106.8" font-style="italic">t</tspan><tspan x="113.8">)</tspan><tspan x="140.9" font-style="italic">H</tspan><tspan x="156.8">(</tspan><tspan x="162.7" font-style="italic">t</tspan><tspan x="169.8">)</tspan><tspan x="175.4" font-style="italic">t</tspan><tspan x="183.2" font-style="italic" font-size="12.5" dy="-8.6">α</tspan></text>
<text transform="translate(123.75,31.20) scale(1.08,0.97)" style="font-family:'Liberation Serif','Times New Roman',serif;font-size:19px" fill="#111" class="b">=</text>
<text y="29.2" style="font-family:'Liberation Serif','Times New Roman',serif;font-size:19px" fill="#111" class="b"><tspan x="440.4" font-style="italic">g</tspan><tspan x="451.4">(</tspan><tspan x="457.8" font-style="italic">t</tspan><tspan x="464.8">)</tspan><tspan x="491.9" font-style="italic">H</tspan><tspan x="507.8">(</tspan><tspan x="513.7" font-style="italic">t</tspan><tspan x="520.8">)</tspan><tspan x="526.4" font-style="italic">t</tspan><tspan x="534.2" font-style="italic" font-size="12.5" dy="-8.6">α</tspan></text>
<text transform="translate(474.75,31.20) scale(1.08,0.97)" style="font-family:'Liberation Serif','Times New Roman',serif;font-size:19px" fill="#111" class="b">=</text>
<text transform="translate(12.8,143.0) rotate(-90)" textLength="62" lengthAdjust="spacingAndGlyphs" style="font-family:'Liberation Serif','Times New Roman',serif;font-size:17px;font-style:italic" fill="#111" class="v">Velocity</text>
<text transform="translate(360.6,132.1) rotate(-90)" textLength="62" lengthAdjust="spacingAndGlyphs" style="font-family:'Liberation Serif','Times New Roman',serif;font-size:17px;font-style:italic" fill="#111" class="v">Velocity</text>
<text x="167.6" y="249.9" style="font-family:'Liberation Serif','Times New Roman',serif;font-size:18px;font-style:italic" fill="#111" class="v">y</text>
<text x="530.4" y="249.9" style="font-family:'Liberation Serif','Times New Roman',serif;font-size:18px;font-style:italic" fill="#111" class="v">y</text>
</svg>
</body></html>
